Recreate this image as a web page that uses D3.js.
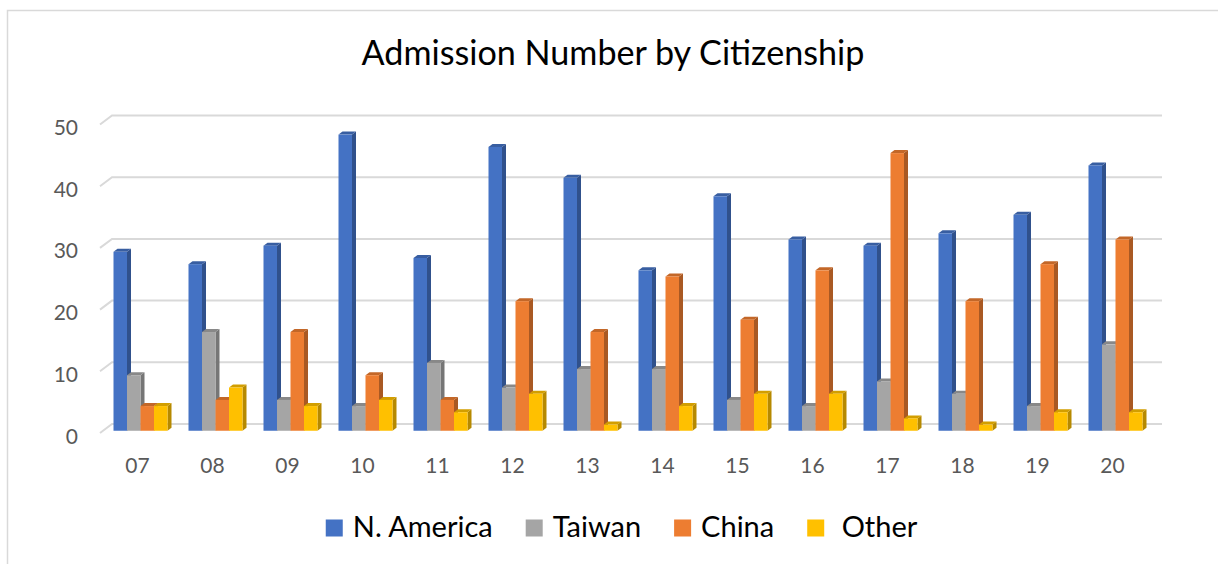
<!DOCTYPE html>
<html>
<head>
<meta charset="utf-8">
<script src="https://cdn.jsdelivr.net/npm/d3@7"></script>
<style>
  body { margin: 0; background: #fff; }
  svg { display: block; font-family: Lato, "Open Sans", sans-serif; }
</style>
</head>
<body>
<svg id="chart" width="1218" height="564"></svg>
<script>
// data
const categories = ["07", "08", "09", "10", "11", "12", "13", "14", "15", "16", "17", "18", "19", "20"];
const nAmerica = [29, 27, 30, 48, 28, 46, 41, 26, 38, 31, 30, 32, 35, 43];
const taiwan   = [9, 16, 5, 4, 11, 7, 10, 10, 5, 4, 8, 6, 4, 14];
const china    = [4, 5, 16, 9, 5, 21, 16, 25, 18, 26, 45, 21, 27, 31];
const other    = [4, 7, 4, 5, 3, 6, 1, 4, 6, 6, 2, 1, 3, 3];
const seriesNames = ["N. America", "Taiwan", "China", "Other"];
const seriesColors = ["#4472C4", "#A5A5A5", "#ED7D31", "#FFC000"];
const yTicks = [0, 10, 20, 30, 40, 50];

const seriesValues = [nAmerica, taiwan, china, other];

const svg = d3.select("#chart");

// chart frame (only left and top edges are in view)
svg.append("rect")
    .attr("x", 7.5).attr("y", 10.5)
    .attr("width", 1300).attr("height", 700)
    .attr("fill", "none")
    .attr("stroke", "#d9d9d9")
    .attr("stroke-width", 1.5);

// title
const title = svg.append("text")
    .attr("x", 613).attr("y", 65)
    .attr("text-anchor", "middle")
    .attr("fill", "#000")
    .style("font-size", "34px")
    .text("Admission Number by Citizenship");
fitWidth(title, 503);

// scales: front plane of the floor, the wall sits back by (wallDx, wallDy)
const x = d3.scaleBand().domain(categories).range([100, 1150]);
const y = d3.scaleLinear().domain([0, 50]).range([433, 124.5]);
const wallDx = 12, wallDy = -9;
const barDx = 3, barDy = -2.25;      // bars stand a little behind the front edge
const sideDx = 4, sideDy = -3;        // depth of one bar
const inner = d3.scaleBand().domain(seriesNames).range([-27, 27]);

// gridlines on the back wall, with the slanted bit on the left
const grid = svg.append("g");
yTicks.forEach(t => {
    grid.append("path")
        .attr("d", `M100,${y(t)} L${100 + wallDx},${y(t) + wallDy} L${1150 + wallDx},${y(t) + wallDy}`)
        .attr("fill", "none")
        .attr("stroke", "#d9d9d9")
        .attr("stroke-width", 2);
});

// y tick labels
svg.append("g").selectAll("text")
    .data(yTicks)
    .enter()
    .append("text")
    .attr("x", 78)
    .attr("y", d => y(d) + 2)
    .attr("text-anchor", "end")
    .attr("dominant-baseline", "central")
    .attr("fill", "#595959")
    .style("font-size", "21px")
    .text(d => d);

// x tick labels
svg.append("g").selectAll("text")
    .data(categories)
    .enter()
    .append("text")
    .attr("x", d => x(d) + x.bandwidth() / 2)
    .attr("y", 472.5)
    .attr("text-anchor", "middle")
    .attr("fill", "#595959")
    .style("font-size", "21px")
    .text(d => d);

// 3d bars
const bars = svg.append("g");
categories.forEach((cat, ci) => {
    seriesNames.forEach((name, si) => {
        const v = seriesValues[si][ci];
        const col = d3.color(seriesColors[si]);
        const x0 = x(cat) + x.bandwidth() / 2 + barDx + inner(name);
        const w = inner.bandwidth();
        const yb = y(0) + barDy;
        const yt = y(v) + barDy;
        const g = bars.append("g");
        // side face
        g.append("path")
            .attr("d", `M${x0 + w},${yb} L${x0 + w + sideDx},${yb + sideDy} L${x0 + w + sideDx},${yt + sideDy} L${x0 + w},${yt} Z`)
            .attr("fill", col.darker(0.95));
        // top face
        g.append("path")
            .attr("d", `M${x0},${yt} L${x0 + sideDx},${yt + sideDy} L${x0 + w + sideDx},${yt + sideDy} L${x0 + w},${yt} Z`)
            .attr("fill", col.darker(0.55));
        // front face
        g.append("rect")
            .attr("x", x0).attr("y", yt)
            .attr("width", w).attr("height", yb - yt)
            .attr("fill", col);
    });
});

// legend
const legend = svg.append("g");
const legendLabels = ["N. America", "Taiwan", "China", " Other"];
const items = legendLabels.map((lab, i) => {
    const g = legend.append("g");
    g.append("rect")
        .attr("x", 0).attr("y", -17)
        .attr("width", 17).attr("height", 17)
        .attr("fill", seriesColors[i]);
    const t = g.append("text")
        .attr("x", 27).attr("y", 0)
        .attr("fill", "#000")
        .style("font-size", "27px")
        .style("white-space", "pre")
        .attr("xml:space", "preserve")
        .text(lab);
    return { g, t };
});
const nameSize = fitWidth(items[0].t, 140);
items.forEach(it => it.t.style("font-size", nameSize + "px"));
const gap = 33;
let widths = items.map(it => 27 + it.t.node().getComputedTextLength());
let total = d3.sum(widths) + gap * (items.length - 1);
let cx = 621.5 - total / 2;
items.forEach((it, i) => {
    it.g.attr("transform", `translate(${cx},536.5)`);
    cx += widths[i] + gap;
});

function fitWidth(sel, target) {
    const size = parseFloat(sel.style("font-size"));
    const w = sel.node().getComputedTextLength();
    const s = size * target / w;
    sel.style("font-size", s + "px");
    return s;
}
</script>
</body>
</html>
